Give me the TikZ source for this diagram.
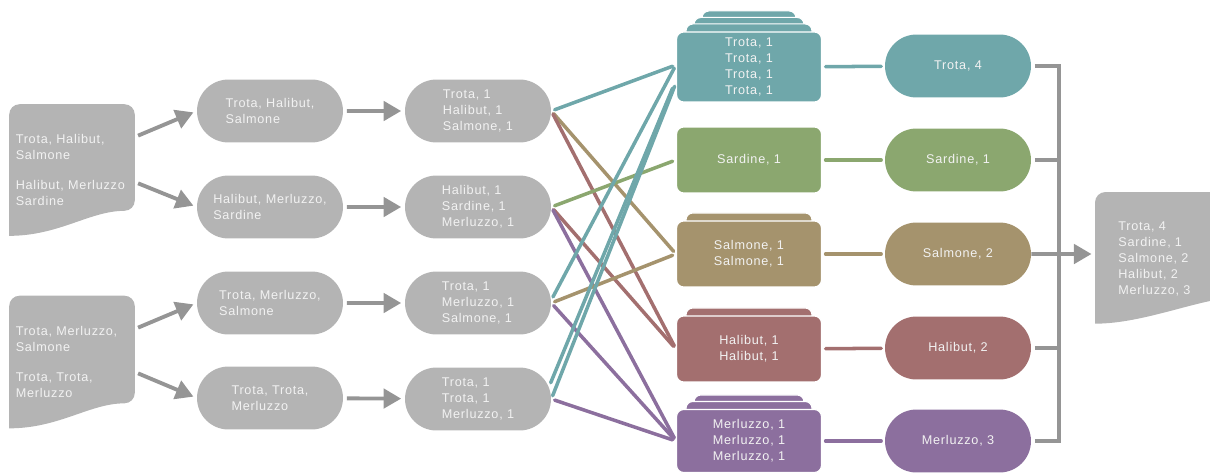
\documentclass[tikz,border=0pt]{standalone}
\usepackage{fontspec}
\setmainfont{Liberation Sans}[LetterSpace=6]
\usetikzlibrary{shapes.misc,arrows.meta,calc,backgrounds}
\definecolor{boxgray}{HTML}{B4B4B4}
\definecolor{arrowgray}{HTML}{959595}
\definecolor{txt}{HTML}{F2F2F2}
\definecolor{trotac}{HTML}{6FA7AA}
\definecolor{sardinec}{HTML}{8BA76F}
\definecolor{salmonec}{HTML}{A5936D}
\definecolor{halibutc}{HTML}{A36F6F}
\definecolor{merluzzoc}{HTML}{8C6F9E}

\begin{document}
\begin{tikzpicture}[x=0.02cm,y=-0.02cm,
  font=\fontsize{7.2}{9.1}\selectfont,
  doc/.style={rectangle, text=txt, align=left, text width=2.25cm, inner xsep=0.125cm,
    minimum width=2.5cm, minimum height=#1},
  pill/.style={rounded rectangle, fill=#1, text=txt, minimum width=2.92cm,
    minimum height=1.26cm, inner sep=0pt, align=left},
  bucket/.style={rectangle, rounded corners=4pt, fill=#1, draw=white, line width=0.7pt,
    text=txt, minimum width=2.9cm, minimum height=1.32cm, align=center},
  layer/.style={fill=#1, draw=white, line width=0.7pt, rounded corners=4pt},
  flow/.style={draw=arrowgray, line width=2.2pt, shorten <=2pt, shorten >=2pt,
    -{Triangle[length=10pt,width=11pt]}},
  link/.style={draw=#1, line width=2pt, line cap=round, shorten <=2pt, shorten >=2pt},
  joint/.style={draw=arrowgray, line width=2.2pt}]
\useasboundingbox (0,0) rectangle (1210,473);

% input documents
\node[doc=2.62cm] (in1) at (72,170) {Trota, Halibut,\\Salmone\\[8pt]Halibut, Merluzzo\\Sardine};
\node[doc=2.64cm] (in2) at (72,362) {Trota, Merluzzo,\\Salmone\\[8pt]Trota, Trota,\\Merluzzo};

% splitting
\node[pill=boxgray] (sp1) at (270,111) {Trota, Halibut,\\Salmone};
\node[pill=boxgray] (sp2) at (270,207) {Halibut, Merluzzo,\\Sardine};
\node[pill=boxgray] (sp3) at (270,303) {Trota, Merluzzo,\\Salmone};
\node[pill=boxgray] (sp4) at (270,398) {Trota, Trota,\\Merluzzo};

% mapping
\node[pill=boxgray] (mp1) at (478,111) {Trota, 1\\Halibut, 1\\Salmone, 1};
\node[pill=boxgray] (mp2) at (478,207) {Halibut, 1\\Sardine, 1\\Merluzzo, 1};
\node[pill=boxgray] (mp3) at (478,303) {Trota, 1\\Merluzzo, 1\\Salmone, 1};
\node[pill=boxgray] (mp4) at (478,399) {Trota, 1\\Trota, 1\\Merluzzo, 1};

% shuffling
\node[bucket=trotac] (sh1) at (749,67) {Trota, 1\\Trota, 1\\Trota, 1\\Trota, 1};
\node[bucket=sardinec] (sh2) at (749,160) {Sardine, 1};
\node[bucket=salmonec] (sh3) at (749,254) {Salmone, 1\\Salmone, 1};
\node[bucket=halibutc] (sh4) at (749,349) {Halibut, 1\\Halibut, 1};
\node[bucket=merluzzoc, minimum height=1.26cm] (sh5) at (749,441) {Merluzzo, 1\\Merluzzo, 1\\Merluzzo, 1};

% reducing
\node[pill=trotac, align=center] (rd1) at (958,66) {Trota, 4};
\node[pill=sardinec, align=center] (rd2) at (958,160) {Sardine, 1};
\node[pill=salmonec, align=center] (rd3) at (958,254) {Salmone, 2};
\node[pill=halibutc, align=center] (rd4) at (958,348) {Halibut, 2};
\node[pill=merluzzoc, align=center] (rd5) at (958,441) {Merluzzo, 3};

% output document
\node[doc=2.66cm, text width=2cm, inner xsep=0.46cm, anchor=north west] (out) at (1095,192)
  {Trota, 4\\Sardine, 1\\Salmone, 2\\Halibut, 2\\Merluzzo, 3};

\begin{pgfonlayer}{background}
  \foreach \d in {in1,in2} {
    \fill[boxgray, rounded corners=6pt] (\d.south west) -- (\d.north west) -- (\d.north east)
      -- ($(\d.south east)+(0,-25)$) [sharp corners] .. controls +(-45,0) and +(50,0) .. (\d.south west) -- cycle;
  }
  \fill[boxgray, rounded corners=6pt] ($(out.south west)+(0,-2)$) -- (out.north west) -- ($(out.north east)+(5,0)$)
    -- ($(out.south east)+(5,-28)$) [sharp corners] .. controls +(-45,0) and +(50,0) .. ($(out.south west)+(0,-2)$) -- cycle;
  % stacked buckets
  \foreach \b/\n/\c in {sh1/3/trotac, sh3/1/salmonec, sh4/1/halibutc, sh5/2/merluzzoc} {
    \foreach \i in {\n,...,1}
      \path[layer=\c] ($(\b.south west)+(8*\i+2,0)$) rectangle ($(\b.north east)+(-8*\i-2,-6.5*\i-1)$);
  }
\end{pgfonlayer}

% arrows
\draw[flow] ($(in1.east)+(0,-33)$) -- (sp1.west);
\draw[flow] ($(in1.east)+(0,12)$) -- (sp2.west);
\draw[flow] ($(in2.east)+(0,-33)$) -- (sp3.west);
\draw[flow] ($(in2.east)+(0,10)$) -- (sp4.west);
\foreach \i in {1,...,4}
  \draw[flow] (sp\i) -- (mp\i);

% map -> shuffle
\draw[link=salmonec] (mp1.east) -- (sh3.west);
\draw[link=halibutc] (mp1.east) -- (sh4.west);
\draw[link=halibutc] (mp2.east) -- (sh4.west);
\draw[link=merluzzoc] (mp2.east) -- (sh5.west);
\draw[link=merluzzoc] (mp3.east) -- (sh5.west);
\draw[link=merluzzoc] (mp4.east) -- (sh5.west);
\draw[link=salmonec] (mp3.east) -- (sh3.west);
\draw[link=sardinec] (mp2.east) -- (sh2.west);
\draw[link=trotac] (mp1.east) -- ($(sh1.west)+(0,-2)$);
\draw[link=trotac] ($(mp3.east)+(0,-3)$) -- ($(sh1.west)+(0,-2)$);
\draw[link=trotac] ($(mp4.east)+(-2,-13)$) -- ($(sh1.west)+(-2,18)$);
\draw[link=trotac] (mp4.east) -- ($(sh1.west)+(0,16)$);

% shuffle -> reduce
\foreach \i/\c in {1/trotac,2/sardinec,3/salmonec,4/halibutc,5/merluzzoc}
  \draw[link=\c] (sh\i) -- (rd\i);

% reduce -> output
\coordinate (trunk) at (1059,254);
\foreach \i in {1,...,5}
  \draw[joint] ([xshift=2pt]rd\i.east) -| (trunk);
\draw[flow, shorten <=0pt] (rd3) -- (out.west |- rd3);
\end{tikzpicture}
\end{document}
